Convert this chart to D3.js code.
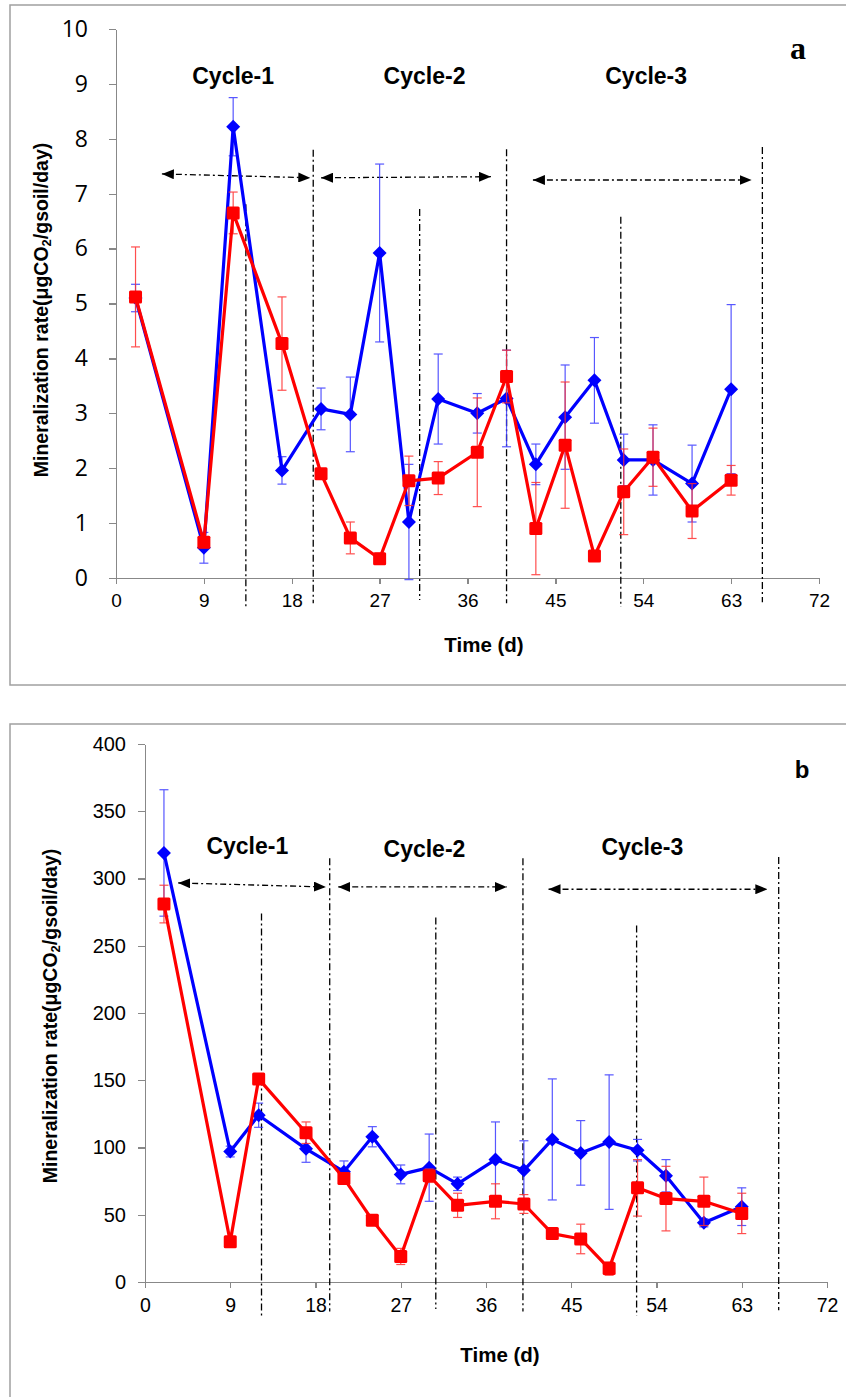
<!DOCTYPE html>
<html lang="en">
  <head>
    <meta charset="utf-8" />
    <title>Mineralization rate</title>
    <script src="https://d3js.org/d3.v7.min.js"></script>
    <style>
      body {
        padding: 0;
        margin: 0;
        background: #fff;
      }
      .tick line, .domain {
        stroke: #888;
        stroke-width: 1.3px;
        shape-rendering: crispEdges;
      }
      .bold {
        font-family: "Liberation Sans", Arial, sans-serif;
        font-weight: bold;
        fill: #000;
      }
    </style>
  </head>
  <body>
    <svg id="chart" width="846" height="1397"></svg>

    <script>
      // sampling days (same for both panels)
      var days = [2, 9, 12, 17, 21, 24, 27, 30, 33, 37, 40, 43, 46, 49, 52, 55, 59, 63];
      var xTicks = [0, 9, 18, 27, 36, 45, 54, 63, 72];
      var cycles = ["Cycle-1", "Cycle-2", "Cycle-3"];

      // panel a values (blue = diamonds, red = squares) and error bars
      var aBlue    = [5.1, 0.55, 8.22, 1.96, 3.08, 2.98, 5.92, 1.02, 3.26, 3.0, 3.27, 2.07, 2.93, 3.6, 2.15, 2.15, 1.72, 3.44];
      var aBlueErr = [0.25, 0.28, 0.53, 0.25, 0.38, 0.68, 1.62, 1.05, 0.82, 0.36, 0.88, 0.37, 0.95, 0.78, 0.47, 0.64, 0.7, 1.54];
      var aRed     = [5.12, 0.65, 6.65, 4.27, 1.9, 0.73, 0.35, 1.77, 1.82, 2.29, 3.67, 0.9, 2.42, 0.4, 1.57, 2.2, 1.22, 1.78];
      var aRedErr  = [0.91, 0.1, 0.38, 0.85, 0.06, 0.29, 0.1, 0.45, 0.3, 0.99, 0.48, 0.84, 1.15, 0.08, 0.78, 0.53, 0.5, 0.27];
      var aYTicks  = [0, 1, 2, 3, 4, 5, 6, 7, 8, 9, 10];

      // panel b values
      var bBlue    = [319, 97, 124, 99, 82, 108, 80, 85, 73, 91, 83, 106, 96, 104, 98, 79, 44, 56];
      var bBlueErr = [47, 4, 9, 10, 8, 7.5, 7, 25, 5, 28, 22, 45, 24, 50, 8, 12, 3, 14];
      var bRed     = [281, 30, 151, 111, 77, 46, 19, 79, 57, 60, 58, 36, 32, 10, 70, 62, 60, 51];
      var bRedErr  = [14, 3, 3, 8, 3, 3, 6, 5, 9, 13, 7, 3, 11, 5, 21, 24, 18, 15];
      var bYTicks  = [0, 50, 100, 150, 200, 250, 300, 350, 400];

      // cycle annotations: separator lines [day, top, bottom], arrows [from, to, yFrom, yTo], label spots [day, value]
      var aSeps   = [[13.3, 6.81, -0.53], [20.2, 7.8, -0.46], [31.1, 6.72, -0.4], [40.0, 7.81, -0.46], [51.7, 6.58, -0.53], [66.2, 7.85, -0.44]];
      var aArrows = [[4.7, 19.9, 7.36, 7.29], [21.0, 38.4, 7.29, 7.31], [42.7, 65.1, 7.25, 7.25]];
      var aLabels = [[12, 9.0], [31.6, 9.0], [54.3, 9.0]];
      var bSeps   = [[12.3, 274, -25], [19.5, 315, -22], [30.7, 271, -20], [39.9, 315, -22], [51.9, 265, -25], [66.9, 316, -21]];
      var bArrows = [[3.5, 19.1, 296.7, 293.7], [20.4, 38.2, 293.7, 293.7], [42.6, 65.7, 292, 292]];
      var bLabels = [[10.8, 318], [29.5, 316], [52.5, 317.5]];

      var svg = d3.select("#chart");

      // arrowheads
      var defs = svg.append("defs");
      defs.append("marker")
        .attr("id", "head")
        .attr("viewBox", "0 0 12 10")
        .attr("refX", 12).attr("refY", 5)
        .attr("markerWidth", 12).attr("markerHeight", 10)
        .attr("markerUnits", "userSpaceOnUse")
        .attr("orient", "auto-start-reverse")
        .append("path")
        .attr("d", "M0,0 L12,5 L0,10 Z")
        .attr("fill", "#000");

      function drawPanel(p) {
        var g = svg.append("g");

        // frame
        g.append("rect")
          .attr("x", 10).attr("y", p.frameTop)
          .attr("width", 860).attr("height", p.frameBottom - p.frameTop)
          .attr("fill", "none")
          .attr("stroke", "#a0a0a0")
          .attr("stroke-width", 1.5);

        var x = d3.scaleLinear().domain([0, 72]).range(p.xRange);
        var y = d3.scaleLinear().domain([0, p.yMax]).range(p.yRange);

        // axes
        var xAxis = g.append("g")
          .attr("transform", "translate(0," + p.yRange[0] + ")")
          .call(d3.axisBottom(x).tickValues(xTicks).tickSize(6).tickSizeOuter(0).tickPadding(10));
        xAxis.selectAll("text")
          .attr("font-family", "'Liberation Sans', Arial, sans-serif")
          .attr("font-size", p.xFont)
          .attr("fill", "#000");

        var yAxis = g.append("g")
          .attr("transform", "translate(" + p.xRange[0] + ",0)")
          .call(d3.axisLeft(y).tickValues(p.yTicks).tickSize(7).tickSizeOuter(0));
        yAxis.selectAll("text")
          .attr("x", -(7 + p.yPad))
          .attr("text-anchor", "end")
          .attr("font-family", p.yFamily)
          .attr("font-size", p.yFont)
          .attr("fill", "#000");

        // axis titles
        g.append("text")
          .attr("class", "bold")
          .attr("x", p.timeX).attr("y", p.timeY)
          .attr("text-anchor", "middle")
          .attr("font-size", 20.5)
          .text("Time (d)");

        var yt = g.append("text")
          .attr("class", "bold")
          .attr("transform", "translate(" + p.titleX + "," + p.titleY + ") rotate(-90)")
          .attr("text-anchor", "middle")
          .attr("dominant-baseline", "central")
          .attr("font-size", 19.5);
        yt.append("tspan").text("Mineralization rate(μgCO");
        yt.append("tspan").attr("font-size", 13).attr("dy", 5).text("2");
        yt.append("tspan").attr("dy", -5).text("/gsoil/day)");

        // cycle separators
        g.selectAll(".sep")
          .data(p.seps)
          .enter().append("line")
          .attr("x1", function(d){ return x(d[0]); })
          .attr("x2", function(d){ return x(d[0]); })
          .attr("y1", function(d){ return y(d[1]); })
          .attr("y2", function(d){ return y(d[2]); })
          .attr("stroke", "#000")
          .attr("stroke-width", 1.3)
          .attr("stroke-dasharray", "7,3,2,3");

        g.selectAll(".arrow")
          .data(p.arrows)
          .enter().append("line")
          .attr("x1", function(d){ return x(d[0]); })
          .attr("x2", function(d){ return x(d[1]); })
          .attr("y1", function(d){ return y(d[2]); })
          .attr("y2", function(d){ return y(d[3]); })
          .attr("stroke", "#000")
          .attr("stroke-width", 1.3)
          .attr("stroke-dasharray", "6,3,2,3")
          .attr("marker-start", "url(#head)")
          .attr("marker-end", "url(#head)");

        g.selectAll(".cycle")
          .data(p.labels)
          .enter().append("text")
          .attr("class", "bold")
          .attr("x", function(d){ return x(d[0]); })
          .attr("y", function(d){ return y(d[1]); })
          .attr("text-anchor", "middle")
          .attr("font-size", 23)
          .text(function(d, i){ return cycles[i]; });

        // panel letter
        g.append("text")
          .attr("x", p.letterX).attr("y", p.letterY)
          .attr("text-anchor", "middle")
          .attr("font-family", p.letterFamily)
          .attr("font-weight", "bold")
          .attr("font-size", p.letterSize)
          .text(p.letter);

        // series
        var series = [
          {vals: p.blue, err: p.blueErr, color: "#0000ff", bar: "#3a3aff", shape: "diamond"},
          {vals: p.red, err: p.redErr, color: "#ff0000", bar: "#ff3030", shape: "square"}
        ];
        var line = d3.line()
          .x(function(d){ return x(d.day); })
          .y(function(d){ return y(d.v); });

        series.forEach(function(s) {
          var pts = days.map(function(d, i){ return {day: d, v: s.vals[i], e: s.err[i]}; });
          var sg = g.append("g");

          var eb = sg.selectAll(".eb").data(pts).enter().append("g")
            .attr("stroke", s.bar)
            .attr("stroke-width", 1.2)
            .attr("opacity", 0.85);
          eb.append("line")
            .attr("x1", function(d){ return x(d.day); })
            .attr("x2", function(d){ return x(d.day); })
            .attr("y1", function(d){ return y(d.v - d.e); })
            .attr("y2", function(d){ return y(d.v + d.e); });
          eb.append("line")
            .attr("x1", function(d){ return x(d.day) - 4.5; })
            .attr("x2", function(d){ return x(d.day) + 4.5; })
            .attr("y1", function(d){ return y(d.v + d.e); })
            .attr("y2", function(d){ return y(d.v + d.e); });
          eb.append("line")
            .attr("x1", function(d){ return x(d.day) - 4.5; })
            .attr("x2", function(d){ return x(d.day) + 4.5; })
            .attr("y1", function(d){ return y(d.v - d.e); })
            .attr("y2", function(d){ return y(d.v - d.e); });

          sg.append("path")
            .attr("d", line(pts))
            .attr("fill", "none")
            .attr("stroke", s.color)
            .attr("stroke-width", 3.2)
            .attr("stroke-linejoin", "round");

          if (s.shape === "diamond") {
            sg.selectAll(".mk").data(pts).enter().append("path")
              .attr("transform", function(d){ return "translate(" + x(d.day) + "," + y(d.v) + ")"; })
              .attr("d", "M0,-7 L7,0 L0,7 L-7,0 Z")
              .attr("fill", s.color);
          } else {
            sg.selectAll(".mk").data(pts).enter().append("rect")
              .attr("x", function(d){ return x(d.day) - 6.5; })
              .attr("y", function(d){ return y(d.v) - 6.5; })
              .attr("width", 13).attr("height", 13)
              .attr("rx", 1.5)
              .attr("fill", s.color);
          }
        });
      }

      drawPanel({
        frameTop: 5, frameBottom: 685,
        xRange: [116, 819], yRange: [578, 29], yMax: 10,
        yTicks: aYTicks, yFamily: "'Open Sans', sans-serif", yFont: 23, yPad: 21, xFont: 19,
        blue: aBlue, blueErr: aBlueErr, red: aRed, redErr: aRedErr,
        seps: aSeps, arrows: aArrows, labels: aLabels,
        timeX: 484, timeY: 652, titleX: 41, titleY: 310,
        letter: "a", letterX: 798, letterY: 59, letterFamily: "'Liberation Serif', 'Times New Roman', serif", letterSize: 32
      });

      drawPanel({
        frameTop: 724, frameBottom: 1420,
        xRange: [145, 827], yRange: [1282, 744], yMax: 400,
        yTicks: bYTicks, yFamily: "'Liberation Sans', Arial, sans-serif", yFont: 20, yPad: 12, xFont: 19.5,
        blue: bBlue, blueErr: bBlueErr, red: bRed, redErr: bRedErr,
        seps: bSeps, arrows: bArrows, labels: bLabels,
        timeX: 500, timeY: 1362, titleX: 50, titleY: 1016,
        letter: "b", letterX: 802, letterY: 778, letterFamily: "'Liberation Sans', Arial, sans-serif", letterSize: 24
      });
    </script>
  </body>
</html>
